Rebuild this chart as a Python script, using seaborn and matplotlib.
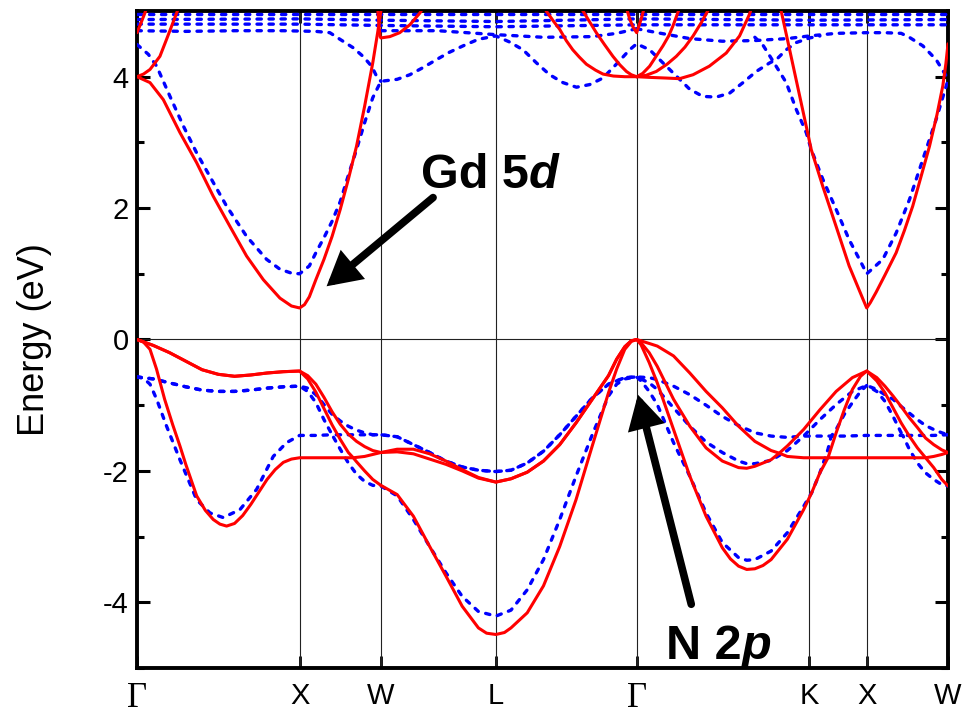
import matplotlib
matplotlib.use("Agg")
import matplotlib.pyplot as plt
from matplotlib.ticker import MultipleLocator, NullLocator
import pandas as pd
import seaborn as sns

# high-symmetry points (cumulative k-path length, 2*pi/a units)
K_POINTS = [0.0, 1.0, 1.5, 2.207, 3.073, 4.134, 4.488, 4.988]
K_LABELS = ['Γ', 'X', 'W', 'L', 'Γ', 'K', 'X', 'W']

# ---------------- spin-up (red, solid) valence bands ----------------
red_v3 = [(0, 0), (0.1, -0.09), (0.2, -0.20), (0.3, -0.33), (0.4, -0.46), (0.5, -0.53), (0.6, -0.56),
          (0.7, -0.54), (0.8, -0.51), (0.9, -0.49), (1.0, -0.48),
          (1.05, -0.55), (1.1, -0.68), (1.15, -0.88), (1.2, -1.10), (1.25, -1.29), (1.3, -1.44),
          (1.35, -1.55), (1.4, -1.63), (1.45, -1.69), (1.5, -1.72),
          (1.6, -1.67), (1.7, -1.67), (1.8, -1.74), (1.9, -1.85), (2.0, -1.98), (2.1, -2.10), (2.207, -2.17),
          (2.3, -2.12), (2.4, -2.02), (2.5, -1.85), (2.6, -1.60), (2.7, -1.27), (2.8, -0.91), (2.9, -0.55),
          (2.95, -0.30), (3.0, -0.11), (3.04, -0.02), (3.073, 0),
          (3.15, -0.06), (3.2, -0.10), (3.3, -0.25), (3.4, -0.51), (3.5, -0.79), (3.6, -1.04), (3.7, -1.32),
          (3.8, -1.55), (3.9, -1.69), (3.95, -1.73),
          (4.0, -1.62), (4.1, -1.37), (4.2, -1.07), (4.3, -0.79), (4.4, -0.58), (4.488, -0.48),
          (4.55, -0.58), (4.6, -0.71), (4.65, -0.86), (4.7, -1.02), (4.75, -1.19), (4.8, -1.34),
          (4.85, -1.50), (4.9, -1.60), (4.95, -1.68), (4.988, -1.72)]

red_v2 = [(0, 0), (0.1, -0.09), (0.2, -0.20), (0.3, -0.33), (0.4, -0.46), (0.5, -0.53), (0.6, -0.56),
          (0.7, -0.54), (0.8, -0.51), (0.9, -0.49), (1.0, -0.48),
          (1.05, -0.60), (1.1, -0.80), (1.15, -1.05), (1.2, -1.30), (1.25, -1.52), (1.3, -1.72), (1.33, -1.80),
          (1.4, -1.78), (1.45, -1.75), (1.5, -1.72),
          (1.6, -1.71), (1.7, -1.74), (1.8, -1.82), (1.9, -1.90), (2.0, -2.00), (2.1, -2.11), (2.207, -2.17),
          (2.3, -2.12), (2.4, -2.02), (2.5, -1.85), (2.6, -1.60), (2.7, -1.27), (2.8, -0.91), (2.9, -0.55),
          (2.95, -0.30), (3.0, -0.11), (3.04, -0.02), (3.073, 0),
          (3.1, -0.05), (3.15, -0.20), (3.2, -0.41), (3.3, -0.91), (3.4, -1.32), (3.5, -1.65), (3.6, -1.85),
          (3.7, -1.95), (3.75, -1.96), (3.8, -1.93), (3.9, -1.83), (3.95, -1.73),
          (4.0, -1.78), (4.1, -1.80), (4.2, -1.80), (4.25, -1.80),
          (4.3, -1.42), (4.35, -1.07), (4.4, -0.76), (4.45, -0.56), (4.488, -0.48),
          (4.55, -0.63), (4.6, -0.81), (4.65, -1.04), (4.7, -1.27), (4.75, -1.47), (4.8, -1.65),
          (4.85, -1.80), (4.9, -1.78), (4.95, -1.75), (4.988, -1.72)]

red_v1 = [(0, 0), (0.04, -0.04), (0.08, -0.15), (0.12, -0.45), (0.17, -0.91), (0.22, -1.30), (0.264, -1.62),
          (0.3, -1.90), (0.367, -2.38), (0.42, -2.60), (0.469, -2.74), (0.51, -2.81), (0.551, -2.84),
          (0.6, -2.80), (0.65, -2.68), (0.7, -2.51), (0.75, -2.32), (0.8, -2.13), (0.85, -1.98),
          (0.9, -1.87), (0.95, -1.82), (1.0, -1.80),
          (1.1, -1.80), (1.2, -1.80), (1.33, -1.80), (1.35, -1.86), (1.4, -2.00), (1.45, -2.13), (1.5, -2.22),
          (1.6, -2.36), (1.7, -2.69), (1.8, -3.15), (1.9, -3.60), (2.0, -4.06), (2.1, -4.39), (2.15, -4.47),
          (2.207, -4.49), (2.26, -4.46),
          (2.3, -4.39), (2.4, -4.16), (2.5, -3.75), (2.6, -3.15), (2.7, -2.44), (2.8, -1.62), (2.9, -0.81),
          (2.95, -0.45), (3.0, -0.15), (3.04, -0.03), (3.073, 0),
          (3.1, -0.08), (3.15, -0.35), (3.2, -0.66), (3.3, -1.37), (3.4, -2.08), (3.5, -2.69), (3.6, -3.17),
          (3.65, -3.34), (3.7, -3.45), (3.75, -3.50), (3.8, -3.49), (3.85, -3.44), (3.9, -3.35),
          (4.0, -3.04), (4.1, -2.59), (4.15, -2.33), (4.2, -2.03), (4.25, -1.80), (4.35, -1.80),
          (4.488, -1.80), (4.6, -1.80), (4.7, -1.80), (4.85, -1.80), (4.9, -1.95), (4.95, -2.13),
          (4.988, -2.23)]

# ---------------- spin-down (blue, dashed) valence bands ----------------
blue_v3 = [(0, -0.57), (0.1, -0.60), (0.2, -0.66), (0.3, -0.72), (0.4, -0.77), (0.5, -0.79), (0.6, -0.79),
           (0.7, -0.77), (0.8, -0.74), (0.9, -0.72), (1.0, -0.71),
           (1.05, -0.74), (1.1, -0.84), (1.15, -0.99), (1.2, -1.14), (1.25, -1.24), (1.3, -1.32),
           (1.35, -1.38), (1.4, -1.42), (1.45, -1.45), (1.5, -1.45),
           (1.6, -1.48), (1.7, -1.60), (1.8, -1.72), (1.9, -1.85), (2.0, -1.94), (2.1, -1.99), (2.207, -2.01),
           (2.3, -1.99), (2.4, -1.88), (2.5, -1.70), (2.6, -1.45), (2.7, -1.17), (2.8, -0.89), (2.9, -0.68),
           (3.0, -0.58), (3.073, -0.57),
           (3.15, -0.58), (3.2, -0.61), (3.3, -0.71), (3.4, -0.84), (3.5, -1.00), (3.6, -1.17), (3.7, -1.31),
           (3.8, -1.42), (3.9, -1.47), (4.0, -1.49), (4.1, -1.47),
           (4.2, -1.22), (4.3, -0.99), (4.4, -0.79), (4.488, -0.70),
           (4.55, -0.76), (4.6, -0.84), (4.65, -0.91), (4.7, -1.02), (4.75, -1.12), (4.8, -1.22),
           (4.85, -1.31), (4.9, -1.37), (4.95, -1.42), (4.988, -1.45)]

blue_v2 = [(0, -0.57), (0.1, -0.60), (0.2, -0.66), (0.3, -0.72), (0.4, -0.77), (0.5, -0.79), (0.6, -0.79),
           (0.7, -0.77), (0.8, -0.74), (0.9, -0.72), (1.0, -0.71),
           (1.05, -0.79), (1.1, -0.96), (1.15, -1.22), (1.2, -1.45), (1.3, -1.45), (1.4, -1.45), (1.5, -1.45),
           (1.6, -1.48), (1.7, -1.60), (1.8, -1.72), (1.9, -1.85), (2.0, -1.94), (2.1, -1.99), (2.207, -2.01),
           (2.3, -1.99), (2.4, -1.88), (2.5, -1.70), (2.6, -1.45), (2.7, -1.17), (2.8, -0.89), (2.9, -0.68),
           (3.0, -0.58), (3.073, -0.57),
           (3.15, -0.66), (3.2, -0.76), (3.3, -1.04), (3.4, -1.32), (3.5, -1.56), (3.6, -1.72), (3.7, -1.85),
           (3.75, -1.89), (3.8, -1.89), (3.9, -1.84), (4.0, -1.69), (4.1, -1.47),
           (4.2, -1.47), (4.27, -1.47),
           (4.3, -1.37), (4.35, -1.14), (4.4, -0.96), (4.45, -0.79), (4.488, -0.70),
           (4.55, -0.79), (4.6, -0.94), (4.65, -1.17), (4.7, -1.42), (4.71, -1.46), (4.8, -1.46),
           (4.9, -1.46), (4.988, -1.45)]

blue_v1 = [(0, -0.57), (0.04, -0.59), (0.08, -0.68), (0.121, -0.91), (0.182, -1.32), (0.264, -1.83),
           (0.367, -2.44), (0.449, -2.64), (0.53, -2.71), (0.633, -2.59), (0.736, -2.28), (0.838, -1.78),
           (0.92, -1.57), (1.0, -1.46),
           (1.1, -1.46), (1.2, -1.45), (1.25, -1.67), (1.3, -1.88), (1.35, -2.05), (1.4, -2.16), (1.45, -2.22),
           (1.5, -2.23),
           (1.6, -2.38), (1.7, -2.74), (1.8, -3.15), (1.9, -3.55), (2.0, -3.91), (2.1, -4.14), (2.207, -4.21),
           (2.3, -4.12), (2.4, -3.81), (2.5, -3.35), (2.6, -2.74), (2.7, -2.08), (2.8, -1.45), (2.9, -0.86),
           (2.95, -0.68), (3.0, -0.60), (3.073, -0.57),
           (3.1, -0.63), (3.15, -0.79), (3.2, -0.99), (3.3, -1.57), (3.4, -2.08), (3.5, -2.64), (3.6, -3.09),
           (3.7, -3.32), (3.75, -3.36), (3.8, -3.35), (3.9, -3.22), (4.0, -2.94), (4.1, -2.54), (4.15, -2.33),
           (4.2, -2.03), (4.25, -1.67), (4.27, -1.47), (4.35, -1.47), (4.488, -1.46),
           (4.6, -1.46), (4.71, -1.46), (4.75, -1.67), (4.8, -1.88), (4.85, -2.03), (4.9, -2.13),
           (4.95, -2.21), (4.988, -2.23)]

# ---------------- spin-up (red) Gd 5d conduction bands ----------------
red_c1 = [(0, 4.00), (0.08, 3.91), (0.162, 3.65), (0.264, 3.15), (0.367, 2.69), (0.469, 2.18), (0.572, 1.72),
          (0.674, 1.27), (0.777, 0.91), (0.879, 0.63), (0.95, 0.51), (1.0, 0.48), (1.03, 0.53), (1.06, 0.65),
          (1.1, 0.91), (1.15, 1.22), (1.2, 1.57), (1.25, 1.98), (1.3, 2.44), (1.35, 2.94), (1.4, 3.55),
          (1.45, 4.21), (1.48, 4.67), (1.5, 5.0), (1.52, 5.3)]
red_c2 = [(1.48, 5.05), (1.494, 4.62), (1.5, 4.59), (1.555, 4.61), (1.616, 4.67), (1.678, 4.79),
          (1.74, 4.97), (1.76, 5.05)]
red_c3 = [(0, 4.00), (0.04, 4.04), (0.08, 4.11), (0.141, 4.31), (0.182, 4.57), (0.213, 4.77), (0.244, 4.97),
          (0.26, 5.08)]
red_c4 = [(0, 4.67), (0.025, 4.82), (0.05, 4.98), (0.06, 5.05)]
red_c5 = [(2.50, 5.08), (2.517, 5.0), (2.56, 4.85), (2.60, 4.72), (2.64, 4.55), (2.68, 4.41), (2.72, 4.30),
          (2.764, 4.19), (2.82, 4.10), (2.866, 4.04), (2.93, 4.01), (3.0, 4.00), (3.073, 4.00)]
red_c6 = [(2.73, 5.05), (2.743, 5.0), (2.785, 4.83), (2.825, 4.67), (2.875, 4.49), (2.927, 4.31),
          (2.97, 4.18), (3.01, 4.08), (3.04, 4.03), (3.073, 4.00)]
red_c7 = [(3.01, 5.05), (3.03, 4.88), (3.05, 4.76), (3.073, 4.67), (3.10, 4.87), (3.12, 5.05)]
red_c8 = [(3.073, 4.00), (3.11, 4.05), (3.153, 4.16), (3.19, 4.30), (3.235, 4.47), (3.27, 4.62),
          (3.296, 4.77), (3.33, 5.0), (3.34, 5.06)]
red_c9 = [(3.073, 4.00), (3.13, 4.02), (3.194, 4.08), (3.26, 4.19), (3.317, 4.31), (3.37, 4.45),
          (3.42, 4.62), (3.47, 4.82), (3.51, 5.0), (3.52, 5.05)]
red_c10 = [(3.073, 4.00), (3.15, 3.99), (3.25, 3.98), (3.337, 3.97), (3.42, 4.03), (3.52, 4.16),
           (3.624, 4.36), (3.706, 4.62), (3.767, 4.95), (3.78, 5.05)]
red_c11 = [(3.95, 5.12), (3.962, 5.0), (4.0, 4.57), (4.05, 4.0), (4.1, 3.43), (4.147, 2.89), (4.218, 2.33),
           (4.30, 1.72), (4.38, 1.12), (4.464, 0.62), (4.488, 0.48), (4.51, 0.56), (4.546, 0.72),
           (4.60, 0.98), (4.669, 1.32), (4.72, 1.66), (4.771, 2.03), (4.82, 2.46), (4.874, 2.94),
           (4.92, 3.42), (4.956, 3.86), (4.975, 4.2), (4.988, 4.5)]

# ---------------- spin-down (blue) Gd 5d conduction bands ----------------
blue_c1 = [(0, 4.49), (0.07, 4.34), (0.121, 4.16), (0.203, 3.70), (0.285, 3.25), (0.367, 2.84),
           (0.469, 2.39), (0.551, 2.03), (0.674, 1.57), (0.797, 1.22), (0.879, 1.07), (0.95, 1.01),
           (1.0, 1.00), (1.06, 1.12), (1.10, 1.32), (1.15, 1.55), (1.2, 1.80), (1.25, 2.10), (1.3, 2.50),
           (1.35, 2.89), (1.4, 3.30), (1.45, 3.68), (1.5, 3.93), (1.6, 3.96), (1.678, 4.03), (1.76, 4.14),
           (1.842, 4.26), (1.92, 4.37), (2.006, 4.47), (2.1, 4.57), (2.207, 4.62), (2.29, 4.53),
           (2.374, 4.41), (2.457, 4.21), (2.538, 4.03), (2.62, 3.91), (2.703, 3.84), (2.784, 3.88),
           (2.866, 3.98), (2.948, 4.19), (3.03, 4.41), (3.073, 4.50), (3.153, 4.41), (3.235, 4.21),
           (3.317, 4.01), (3.399, 3.81), (3.48, 3.70), (3.563, 3.69), (3.645, 3.75), (3.727, 3.91),
           (3.809, 4.08), (3.891, 4.21), (3.932, 4.26), (3.993, 4.41), (4.055, 4.52), (4.137, 4.59),
           (4.2, 4.62)]
blue_c2 = [(3.80, 4.60), (3.85, 4.48), (3.911, 4.24), (3.993, 3.91), (4.055, 3.50), (4.116, 3.15),
           (4.147, 2.89), (4.218, 2.44), (4.30, 1.98), (4.38, 1.52), (4.464, 1.12), (4.488, 1.00),
           (4.52, 1.07), (4.587, 1.22), (4.669, 1.62), (4.751, 2.13), (4.833, 2.74), (4.915, 3.35),
           (4.96, 3.72), (4.988, 3.95)]
blue_c3 = [(0, 4.70), (0.3, 4.69), (0.6, 4.70), (0.9, 4.70), (1.1, 4.69), (1.186, 4.67), (1.248, 4.57),
           (1.33, 4.44), (1.39, 4.31), (1.443, 4.16), (1.473, 4.01), (1.5, 3.93)]
blue_c4 = [(1.5, 4.70), (1.85, 4.70), (2.207, 4.64), (2.5, 4.60), (2.8, 4.61), (2.95, 4.66), (3.073, 4.73)]
blue_c5 = [(3.073, 4.73), (3.2, 4.67), (3.4, 4.58), (3.6, 4.54), (3.8, 4.55), (4.0, 4.58), (4.134, 4.62),
           (4.3, 4.66), (4.488, 4.67), (4.6, 4.67), (4.70, 4.66), (4.75, 4.60), (4.833, 4.47),
           (4.915, 4.26), (4.977, 4.01), (4.988, 3.95)]
blue_c6 = [(0, 4.95), (1.5, 4.95), (3.073, 4.95), (4.988, 4.95)]
blue_c7 = [(0, 4.87), (1.0, 4.88), (1.5, 4.86), (2.207, 4.84), (3.073, 4.88), (4.134, 4.86), (4.988, 4.87)]
blue_c8 = [(0, 4.80), (1.0, 4.80), (1.5, 4.78), (2.207, 4.76), (3.073, 4.79), (4.134, 4.79), (4.988, 4.79)]

red_bands = {'v1': red_v1, 'v2': red_v2, 'v3': red_v3, 'c1': red_c1, 'c2': red_c2, 'c3': red_c3,
             'c4': red_c4, 'c5': red_c5, 'c6': red_c6, 'c7': red_c7, 'c8': red_c8, 'c9': red_c9,
             'c10': red_c10, 'c11': red_c11}
blue_bands = {'v1': blue_v1, 'v2': blue_v2, 'v3': blue_v3, 'c1': blue_c1, 'c2': blue_c2, 'c3': blue_c3,
              'c4': blue_c4, 'c5': blue_c5, 'c6': blue_c6, 'c7': blue_c7, 'c8': blue_c8}


def to_frame(bands):
    rec = []
    for name, pts in bands.items():
        for i, (k, e) in enumerate(pts):
            rec.append((name, i, k, e))
    return pd.DataFrame(rec, columns=['band', 'idx', 'k', 'E'])


df_up = to_frame(red_bands)
df_dn = to_frame(blue_bands)

sns.set_theme(style='ticks')
plt.rcParams['font.family'] = ['Liberation Sans', 'DejaVu Sans']
plt.rcParams['axes.unicode_minus'] = False
plt.rcParams['text.color'] = 'black'
plt.rcParams['axes.labelcolor'] = 'black'
plt.rcParams['xtick.color'] = 'black'
plt.rcParams['ytick.color'] = 'black'
plt.rcParams['axes.edgecolor'] = 'black'

fig = plt.figure(figsize=(9.69, 7.18), dpi=100)
ax = fig.add_axes([0.14138, 0.06964, 0.83695, 0.91504])

for kp in K_POINTS[1:-1]:
    ax.axvline(kp, color='#222222', lw=0.8, zorder=1)
ax.axhline(0, color='#222222', lw=0.8, zorder=1)

sns.lineplot(data=df_dn, x='k', y='E', units='band', estimator=None, sort=False, ax=ax,
             color='#0000ff', lw=2.4, linestyle=(0, (1.3, 2.3)), dash_capstyle='round',
             legend=False, zorder=3)
sns.lineplot(data=df_up, x='k', y='E', units='band', estimator=None, sort=False, ax=ax,
             color='#ff0000', lw=2.2, legend=False, zorder=4)

ax.set_xlim(K_POINTS[0], K_POINTS[-1])
ax.set_ylim(-5, 5)
ax.set_xticks(K_POINTS)
ax.set_xticklabels(K_LABELS)
ax.xaxis.set_minor_locator(NullLocator())
ax.set_yticks([-4, -2, 0, 2, 4])
ax.yaxis.set_minor_locator(MultipleLocator(1))
ax.tick_params(axis='both', which='both', direction='in', top=True, right=True,
               colors='black', labelcolor='black')
ax.tick_params(axis='y', which='major', length=9.5, width=2.2, labelsize=21, pad=6)
ax.tick_params(axis='y', which='minor', length=5, width=2.2)
ax.tick_params(axis='x', which='major', length=8.5, width=2.0, labelsize=21, pad=10)
for lbl in ax.get_xticklabels():
    if lbl.get_text() == 'Γ':
        lbl.set_fontfamily(['Liberation Serif', 'DejaVu Serif'])
        lbl.set_fontsize(25)
for sp in ax.spines.values():
    sp.set_linewidth(2.8)
    sp.set_color('black')

ax.set_xlabel('')
ax.set_ylabel('Energy (eV)', fontsize=26, color='black')
ax.yaxis.set_label_coords(-0.105, 0.5)

# annotations
arrow_kw = dict(arrowstyle='-|>,head_length=0.45,head_width=0.25', lw=5.5, color='black',
                mutation_scale=36, shrinkA=0, shrinkB=0, joinstyle='miter')
t1 = ax.text(1.746, 2.31, 'Gd 5', fontsize=35, fontweight='bold', ha='left', va='baseline',
             color='black', zorder=6)
ax.annotate('d', xy=(1, 0), xycoords=t1, ha='left', va='bottom', fontsize=35, fontweight='bold',
            fontstyle='italic', color='black', zorder=6)
ax.annotate('', xy=(1.166, 0.81), xytext=(1.821, 2.16), arrowprops=arrow_kw, zorder=6)
t2 = ax.text(3.251, -4.87, 'N 2', fontsize=35, fontweight='bold', ha='left', va='baseline',
             color='black', zorder=6)
ax.annotate('p', xy=(1, 0), xycoords=t2, ha='left', va='bottom', fontsize=35, fontweight='bold',
            fontstyle='italic', color='black', zorder=6)
ax.annotate('', xy=(3.081, -0.84), xytext=(3.409, -4.03), arrowprops=arrow_kw, zorder=6)

fig.savefig('out.png', dpi=100)
